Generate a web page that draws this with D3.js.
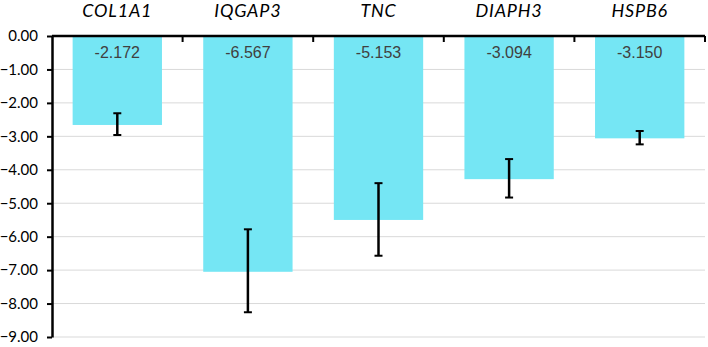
<!DOCTYPE html>
<html><head><meta charset="utf-8">
<script src="https://cdn.jsdelivr.net/npm/d3@7"></script>
<style>body{margin:0;background:#fff}svg{display:block}</style>
</head><body>
<script>
const categories = ["COL1A1","IQGAP3","TNC","DIAPH3","HSPB6"];
const barValues = [-2.66,-7.05,-5.50,-4.28,-3.06];
const errTop = [-2.31,-5.78,-4.40,-3.68,-2.84];
const errBottom = [-2.96,-8.26,-6.57,-4.83,-3.24];
const labels = ["-2.172","-6.567","-5.153","-3.094","-3.150"];
const yTicks = [0,-1,-2,-3,-4,-5,-6,-7,-8,-9];

const W=708,H=347;
const svg=d3.select("body").append("svg").attr("width",W).attr("height",H);
const x=d3.scaleBand().domain(categories).range([52,705]).paddingInner(0.316).paddingOuter(0.158);
const y=d3.scaleLinear().domain([0,-9]).range([36,337]);

svg.append("g").selectAll("line").data(yTicks.filter(d=>d!==0)).join("line")
  .attr("x1",52).attr("x2",705).attr("y1",d=>y(d)).attr("y2",d=>y(d))
  .attr("stroke","#d9d9d9").attr("stroke-width",1);

svg.append("g").selectAll("rect").data(categories).join("rect")
  .attr("x",d=>x(d)).attr("width",x.bandwidth())
  .attr("y",y(0)).attr("height",(d,i)=>y(barValues[i])-y(0))
  .attr("fill","#75E6F4");

svg.append("g").selectAll("text").data(categories).join("text")
  .attr("x",d=>x(d)+x.bandwidth()/2).attr("y",58)
  .attr("text-anchor","middle").attr("font-family","Liberation Sans, Arial, sans-serif")
  .attr("font-size",16).attr("fill","#404040").text((d,i)=>labels[i]);

const eb=svg.append("g").attr("stroke","#000").attr("stroke-width",2.5);
categories.forEach((c,i)=>{
  const cx=x(c)+x.bandwidth()/2;
  eb.append("line").attr("x1",cx).attr("x2",cx).attr("y1",y(errTop[i])).attr("y2",y(errBottom[i]));
  eb.append("line").attr("x1",cx-4).attr("x2",cx+4).attr("y1",y(errTop[i])).attr("y2",y(errTop[i])).attr("stroke-width",2);
  eb.append("line").attr("x1",cx-4).attr("x2",cx+4).attr("y1",y(errBottom[i])).attr("y2",y(errBottom[i])).attr("stroke-width",2);
});

const yAxis=d3.axisLeft(y).tickValues(yTicks).tickFormat(d3.format(".2f")).tickSize(5).tickSizeOuter(0);
const gy=svg.append("g").attr("transform","translate(52,0)").call(yAxis);
gy.select(".domain").attr("stroke","#000").attr("stroke-width",2.5);
gy.selectAll(".tick line").attr("stroke","#000").attr("stroke-width",2);
gy.selectAll(".tick text").attr("font-family","Lato, sans-serif").attr("font-size",15).attr("fill","#000").attr("x",-14);

const gx=svg.append("g");
gx.append("line").attr("x1",52).attr("x2",705).attr("y1",y(0)).attr("y2",y(0)).attr("stroke","#000").attr("stroke-width",2.5);
const bounds=categories.map(c=>x(c)-x.step()*x.paddingInner()/2).slice(1).concat([705]);
gx.selectAll("line.t").data(bounds).join("line").attr("class","t")
  .attr("x1",d=>d).attr("x2",d=>d).attr("y1",y(0)).attr("y2",y(0)+6).attr("stroke","#000").attr("stroke-width",2);
gx.selectAll("text").data(categories).join("text")
  .attr("x",d=>x(d)+x.bandwidth()/2).attr("y",17).attr("text-anchor","middle")
  .attr("font-family","Lato, sans-serif").attr("font-style","italic").attr("font-size",18)
  .attr("letter-spacing","0.8px").attr("fill","#000")
  .text(d=>d);
</script>
</body></html>
